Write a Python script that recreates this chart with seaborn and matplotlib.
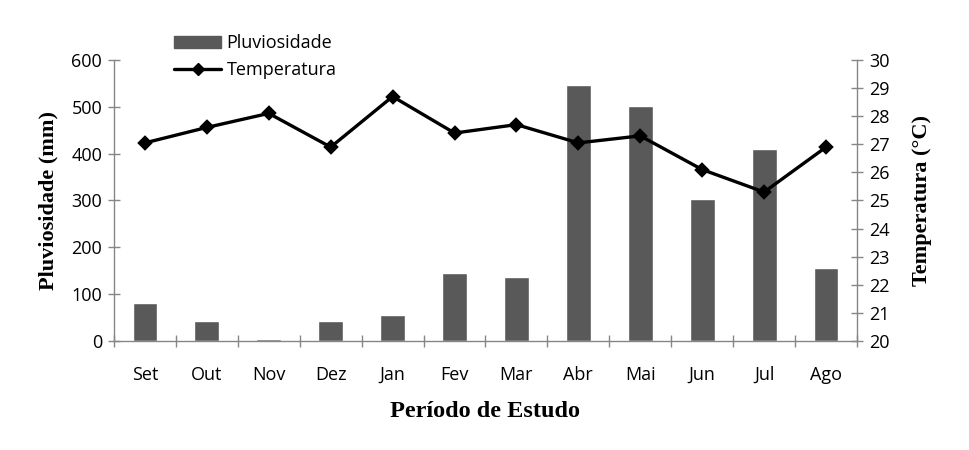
import matplotlib
matplotlib.use("Agg")
import matplotlib.pyplot as plt
import seaborn as sns
import pandas as pd
from matplotlib.ticker import MultipleLocator, FixedLocator
from matplotlib.lines import Line2D
from matplotlib.patches import Patch

months = ["Set", "Out", "Nov", "Dez", "Jan", "Fev", "Mar", "Abr", "Mai", "Jun", "Jul", "Ago"]
rain_mm = [82, 43, 5, 43, 56, 145, 137, 547, 502, 303, 410, 156]
temp_c = [27.05, 27.6, 28.1, 26.9, 28.7, 27.4, 27.7, 27.05, 27.3, 26.1, 25.3, 26.9]

df = pd.DataFrame({"mes": months, "chuva": rain_mm, "temp": temp_c})

sns.set_theme(style="white")
plt.rcParams["font.family"] = ["Open Sans", "DejaVu Sans"]
plt.rcParams["text.color"] = "black"
plt.rcParams["axes.labelcolor"] = "black"

fig = plt.figure(figsize=(9.7, 4.5), dpi=100)
ax = fig.add_axes([0.1175, 0.2422, 0.766, 0.6245])

bar_color = "#595959"
axis_color = "#868686"

sns.barplot(data=df, x="mes", y="chuva", color=bar_color, width=0.4,
            saturation=1, ax=ax, order=months)
ax.set_ylim(0, 600)
ax.set_xlim(-0.5, len(months) - 0.5)
ax.yaxis.set_major_locator(MultipleLocator(100))

ax2 = ax.twinx()
sns.pointplot(data=df, x="mes", y="temp", color="black", markers="D",
              linewidth=2.4, markersize=6.5, ax=ax2, order=months, errorbar=None)
ax2.set_ylim(20, 30)
ax2.yaxis.set_major_locator(MultipleLocator(1))
ax2.set_xlim(-0.5, len(months) - 0.5)

for a in (ax, ax2):
    a.spines["top"].set_visible(False)
    for s in ("left", "right", "bottom"):
        a.spines[s].set_color(axis_color)
        a.spines[s].set_linewidth(1.0)
ax.spines["right"].set_visible(False)
ax2.spines["left"].set_visible(False)
ax2.spines["bottom"].set_visible(False)

ax.tick_params(axis="y", direction="inout", length=9, width=1, color=axis_color,
               labelsize=13, pad=4, left=True, labelcolor="black")
ax2.tick_params(axis="y", direction="inout", length=9, width=1, color=axis_color,
                labelsize=13, pad=4, right=True, labelcolor="black")
ax.xaxis.set_minor_locator(FixedLocator([i - 0.5 for i in range(len(months) + 1)]))
ax.tick_params(axis="x", which="major", length=0, labelsize=13, pad=18,
               labelcolor="black")
ax.tick_params(axis="x", which="minor", direction="inout", length=9, width=1,
               color=axis_color, bottom=True)

ax.set_xlabel("Período de Estudo", labelpad=12, family="Liberation Serif",
              weight="bold", size=17.5, color="black")
ax.set_ylabel("Pluviosidade (mm)", labelpad=9, family="Liberation Serif",
              weight="bold", size=16, color="black")
ax2.set_ylabel("Temperatura (°C)", labelpad=16, family="Liberation Serif",
               weight="bold", size=16, color="black")

handles = [Patch(facecolor=bar_color, edgecolor=bar_color, label="Pluviosidade"),
           Line2D([0], [0], color="black", lw=2.4, marker="D", markersize=6.5,
                  label="Temperatura")]
fig.legend(handles=handles, loc="upper left", bbox_to_anchor=(0.172, 0.94),
           frameon=False, fontsize=13, handlelength=2.6, labelspacing=0.5,
           handletextpad=0.3, borderaxespad=0, labelcolor="black")

fig.savefig("out.png", dpi=100)
